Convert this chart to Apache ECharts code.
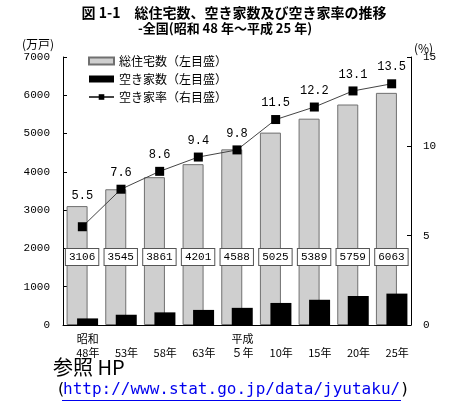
<!DOCTYPE html>
<html><head><meta charset="utf-8">
<script src="https://cdn.jsdelivr.net/npm/echarts@6/dist/echarts.min.js"></script>
<style>html,body{margin:0;padding:0;background:#fff}#c{width:461px;height:404px}</style>
</head><body><div id="c"></div>
<script>
const categories = ['昭和\n48年', '\n53年', '\n58年', '\n63年', '平成\n５年', '\n10年', '\n15年', '\n20年', '\n25年'];
const totalHouses = [3106, 3545, 3861, 4201, 4588, 5025, 5389, 5759, 6063];
const vacantHouses = [172, 268, 330, 394, 448, 576, 659, 757, 820];
const vacancyRate = [5.5, 7.6, 8.6, 9.4, 9.8, 11.5, 12.2, 13.1, 13.5];
const seriesNames = ['総住宅数（左目盛）', '空き家数（左目盛）', '空き家率（右目盛）'];

const JP = '"Noto Sans CJK JP", "Noto Sans", sans-serif';
const NUM = '"Liberation Mono", "DejaVu Sans Mono", monospace';
const chart = echarts.init(document.getElementById('c'));
chart.setOption({
  animation: false,
  backgroundColor: '#fff',
  grid: { left: 63, right: 50, top: 57, bottom: 79, containLabel: false },
  legend: {
    orient: 'vertical', left: 88, top: 55, itemWidth: 25, itemHeight: 7, itemGap: 6, padding: 0,
    textStyle: { fontFamily: JP, fontSize: 12, color: '#000' },
    data: [
      { name: seriesNames[0], icon: 'rect' },
      { name: seriesNames[1], icon: 'rect' },
      { name: seriesNames[2] }
    ]
  },
  xAxis: {
    type: 'category', data: categories,
    axisLine: { lineStyle: { color: '#000', width: 1 } },
    axisTick: { inside: true, length: 3, lineStyle: { color: '#000' } },
    axisLabel: { fontFamily: JP, fontSize: 11, color: '#000', lineHeight: 14, margin: 7, padding: [0, 0, 0, 11] }
  },
  yAxis: [
    { type: 'value', min: 0, max: 7000, interval: 1000, splitLine: { show: false },
      axisLine: { show: true, lineStyle: { color: '#000' } },
      axisTick: { show: true, inside: true, length: 4, lineStyle: { color: '#000' } },
      axisLabel: { fontFamily: NUM, fontSize: 11, color: '#000', margin: 13, formatter: v => String(v) } },
    { type: 'value', min: 0, max: 15, interval: 5, splitLine: { show: false },
      axisLine: { show: true, lineStyle: { color: '#000' } },
      axisTick: { show: true, inside: true, length: 4, lineStyle: { color: '#000' } },
      axisLabel: { fontFamily: NUM, fontSize: 11, color: '#000', margin: 12, formatter: v => String(v) } }
  ],
  series: [
    { name: seriesNames[0], type: 'bar', data: totalHouses, barWidth: 21, barGap: '-50%',
      itemStyle: { color: '#cfcfcf', borderColor: '#707070', borderWidth: 1 },
      label: { show: true, position: 'insideBottom', distance: 60, offset: [5, 0],
        fontFamily: NUM, fontSize: 11, color: '#000', backgroundColor: '#fff',
        borderColor: '#555', borderWidth: 1, padding: [3, 3, 2, 3] } },
    { name: seriesNames[1], type: 'bar', data: vacantHouses, barWidth: 21,
      itemStyle: { color: '#000' } },
    { name: seriesNames[2], type: 'line', yAxisIndex: 1,
      data: vacancyRate.map((v, i) => i === 0 ? { value: v, label: { distance: 20 } } : v),
      symbol: 'rect', symbolSize: 9, lineStyle: { color: '#444', width: 1 },
      itemStyle: { color: '#000' },
      label: { show: true, position: 'top', distance: 6, fontFamily: NUM, fontSize: 12, color: '#000' } }
  ],
  graphic: [
    { type: 'text', style: { x: 234, y: 13, text: '図 1-1　総住宅数、空き家数及び空き家率の推移', textAlign: 'center', textVerticalAlign: 'middle', font: 'bold 14px ' + JP, fill: '#000' } },
    { type: 'text', style: { x: 225, y: 28, text: '-全国(昭和 48 年～平成 25 年)', textAlign: 'center', textVerticalAlign: 'middle', font: 'bold 13px ' + JP, fill: '#000' } },
    { type: 'text', style: { x: 22, y: 44, text: '(万戸)', textVerticalAlign: 'middle', font: '12px ' + JP, fill: '#000' } },
    { type: 'text', style: { x: 414, y: 48, text: '(%)', textVerticalAlign: 'middle', font: '12px ' + JP, fill: '#000' } },
    { type: 'text', style: { x: 53, y: 367, text: '参照 HP', textVerticalAlign: 'middle', font: '20px ' + JP, fill: '#000' } },
    { type: 'text', style: { x: 56, y: 390, text: '(', textVerticalAlign: 'middle', font: '16px "DejaVu Sans Mono", monospace', fill: '#000' } },
    { type: 'text', style: { x: 63, y: 390, text: 'http://www.stat.go.jp/data/jyutaku/', textVerticalAlign: 'middle', font: '16px "DejaVu Sans Mono", monospace', fill: '#0000ee' } },
    { type: 'text', style: { x: 400, y: 390, text: ')', textVerticalAlign: 'middle', font: '16px "DejaVu Sans Mono", monospace', fill: '#000' } },
    { type: 'line', shape: { x1: 62, y1: 400.5, x2: 401, y2: 400.5 }, style: { stroke: '#0000ee', lineWidth: 1 } }
  ]
});
</script></body></html>
